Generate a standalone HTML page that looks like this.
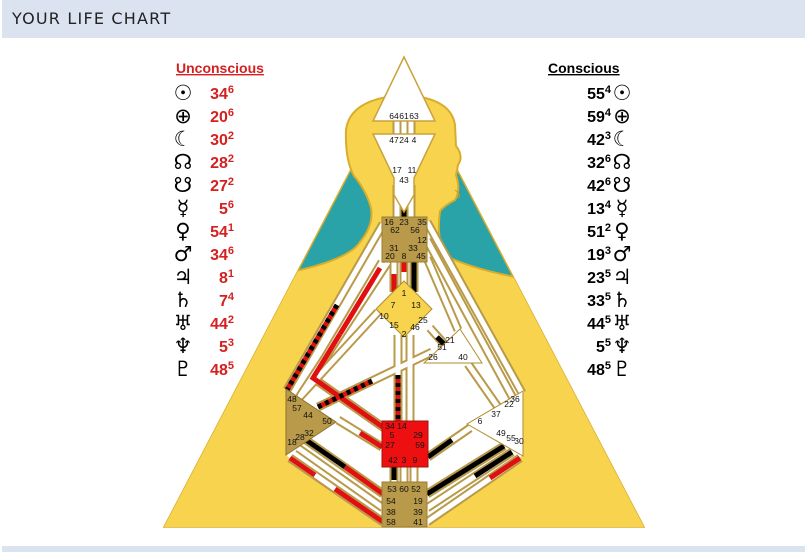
<!DOCTYPE html>
<html><head><meta charset="utf-8"><style>
body{margin:0;width:807px;height:552px;background:#fff;overflow:hidden;font-family:"Liberation Sans",sans-serif}
.hdr{position:absolute;left:2px;top:0;width:803px;height:38px;background:#dae3ef}
.hdr span{position:absolute;left:10px;top:9px;font-size:16px;letter-spacing:1.2px;color:#222;font-family:"DejaVu Sans","Liberation Sans",sans-serif}
.ftr{position:absolute;left:2px;top:546px;width:803px;height:6px;background:#dae3ef}
svg{position:absolute;left:0;top:0}
</style></head><body>
<div class="hdr"><span>YOUR LIFE CHART</span></div>
<div class="ftr"></div>
<svg width="807" height="552" viewBox="0 0 807 552">
<defs>
<clipPath id="tri"><polygon points="164,527 644,527 404,68"/><rect x="330" y="60" width="150" height="110"/></clipPath>
</defs>
<polygon points="164,527 644,527 404,68" fill="#2aa3a8" stroke="#d9ad2c" stroke-width="1.5"/>
<g clip-path="url(#tri)">
<path d="M150,530 L150,285 L300,270 Q350,258 360,242 Q374,225 371,208 Q366,190 354,176 Q345,160 346,130 Q350,98 405,95 Q451,98 455,125 L456,146 Q464,156 458,165 L456,175 Q461,190 455,200 Q445,205 440,211 Q436,240 446,256 Q470,268 515,277 L660,300 L660,530 Z" fill="#f7d34e" stroke="#d9ad2c" stroke-width="2"/>
</g>
<path d="M455,190 Q462,195 458,198" fill="none" stroke="#c99a2a" stroke-width="1"/>
<polygon points="384,228 287,390 287,456 384,527 426,527 522,456 522,393 426,228" fill="#fff"/>
<g stroke-linecap="butt" fill="none">
<g stroke="#b89a48" stroke-width="9">
<line x1="397" y1="118" x2="397" y2="138"/><line x1="404" y1="118" x2="404" y2="138"/><line x1="411" y1="118" x2="411" y2="138"/>
<line x1="397" y1="185" x2="397" y2="218"/><line x1="411" y1="185" x2="411" y2="218"/><line x1="404" y1="195" x2="404" y2="218"/>
<line x1="394" y1="262" x2="394" y2="292"/><line x1="404" y1="262" x2="404" y2="285"/><line x1="414" y1="262" x2="414" y2="292"/>
<line x1="383" y1="224" x2="287" y2="390"/><line x1="388" y1="262" x2="300" y2="396"/>
<polyline points="382,262 313,378 384,428"/>
<line x1="378" y1="312" x2="297" y2="400"/>
<line x1="427" y1="222" x2="522" y2="393"/><line x1="427" y1="240" x2="514" y2="400"/><line x1="427" y1="258" x2="458" y2="330"/>
<line x1="398" y1="335" x2="398" y2="421"/><line x1="410" y1="335" x2="410" y2="421"/>
<line x1="430" y1="328" x2="445" y2="345"/>
<line x1="318" y1="407" x2="432" y2="352"/>
<line x1="338" y1="420" x2="382" y2="447"/>
<line x1="468" y1="364" x2="500" y2="410"/>
<line x1="428" y1="457" x2="470" y2="428"/>
<line x1="290" y1="458" x2="383" y2="522"/><line x1="298" y1="448" x2="383" y2="508"/><line x1="306" y1="440" x2="383" y2="494"/>
<line x1="520" y1="458" x2="427" y2="522"/><line x1="512" y1="452" x2="427" y2="508"/><line x1="504" y1="446" x2="427" y2="494"/>
<line x1="394" y1="466" x2="394" y2="484"/><line x1="404" y1="466" x2="404" y2="484"/><line x1="414" y1="466" x2="414" y2="484"/>
</g>
<g stroke="#fff" stroke-width="5">
<line x1="397" y1="118" x2="397" y2="138"/><line x1="404" y1="118" x2="404" y2="138"/><line x1="411" y1="118" x2="411" y2="138"/>
<line x1="397" y1="185" x2="397" y2="218"/><line x1="411" y1="185" x2="411" y2="218"/><line x1="404" y1="195" x2="404" y2="218"/>
<line x1="394" y1="262" x2="394" y2="292"/><line x1="404" y1="262" x2="404" y2="285"/><line x1="414" y1="262" x2="414" y2="292"/>
<line x1="383" y1="224" x2="287" y2="390"/><line x1="388" y1="262" x2="300" y2="396"/>
<polyline points="382,262 313,378 384,428"/>
<line x1="378" y1="312" x2="297" y2="400"/>
<line x1="427" y1="222" x2="522" y2="393"/><line x1="427" y1="240" x2="514" y2="400"/><line x1="427" y1="258" x2="458" y2="330"/>
<line x1="398" y1="335" x2="398" y2="421"/><line x1="410" y1="335" x2="410" y2="421"/>
<line x1="430" y1="328" x2="445" y2="345"/>
<line x1="318" y1="407" x2="432" y2="352"/>
<line x1="338" y1="420" x2="382" y2="447"/>
<line x1="468" y1="364" x2="500" y2="410"/>
<line x1="428" y1="457" x2="470" y2="428"/>
<line x1="290" y1="458" x2="383" y2="522"/><line x1="298" y1="448" x2="383" y2="508"/><line x1="306" y1="440" x2="383" y2="494"/>
<line x1="520" y1="458" x2="427" y2="522"/><line x1="512" y1="452" x2="427" y2="508"/><line x1="504" y1="446" x2="427" y2="494"/>
<line x1="394" y1="466" x2="394" y2="484"/><line x1="404" y1="466" x2="404" y2="484"/><line x1="414" y1="466" x2="414" y2="484"/>
</g>
<g stroke-width="5">
<line x1="404" y1="203" x2="404" y2="218" stroke="#000"/>
<line x1="404" y1="262" x2="404" y2="272" stroke="#e01010"/>
<line x1="414" y1="262" x2="414" y2="292" stroke="#000"/>
<line x1="394" y1="274" x2="394" y2="292" stroke="#e01010"/>
<line x1="337" y1="305" x2="287" y2="390" stroke="#e01010"/>
<line x1="337" y1="305" x2="287" y2="390" stroke="#000" stroke-dasharray="4 4"/>
<line x1="380" y1="268" x2="340" y2="334" stroke="#e01010"/>
<polyline points="340,334 313,378 384,428" stroke="#e01010"/>
<line x1="318" y1="407" x2="372" y2="381" stroke="#e01010"/>
<line x1="318" y1="407" x2="372" y2="381" stroke="#000" stroke-dasharray="4 4"/>
<line x1="398" y1="375" x2="398" y2="421" stroke="#e01010"/>
<line x1="398" y1="375" x2="398" y2="421" stroke="#000" stroke-dasharray="4 4"/>
<line x1="360" y1="433" x2="382" y2="447" stroke="#e01010"/>
<line x1="437" y1="337" x2="445" y2="345" stroke="#000"/>
<line x1="428" y1="457" x2="452" y2="440" stroke="#000"/>
<line x1="290" y1="458" x2="383" y2="522" stroke="#e01010"/>
<line x1="315" y1="475" x2="335" y2="489" stroke="#fff"/>
<line x1="306" y1="440" x2="345" y2="467" stroke="#000"/>
<line x1="345" y1="467" x2="383" y2="494" stroke="#e01010"/>
<line x1="504" y1="446" x2="427" y2="494" stroke="#000"/>
<line x1="512" y1="452" x2="475" y2="476" stroke="#000"/>
<line x1="520" y1="458" x2="490" y2="478" stroke="#e01010"/>
<line x1="394" y1="466" x2="394" y2="480" stroke="#000"/>
</g>
</g>
<polygon points="404,57 435,121 373,121" fill="#fff" stroke="#c9a23a" stroke-width="1.5"/>
<polygon points="373,134 435,134 414,178 414,195 404,212 394,195 394,178" fill="#fff" stroke="#c9a23a" stroke-width="1.5"/>
<rect x="382" y="217" width="45" height="45" fill="#b89a4a" stroke="#9a7e33"/>
<polygon points="404,281 432,309 404,337 376,309" fill="#f7d34e" stroke="#b08f2e"/>
<polygon points="460,329 482,363 424,363" fill="#fff" stroke="#b08f2e"/>
<polygon points="286,389 336,422 286,455" fill="#b89a4a" stroke="#8e7430"/>
<polygon points="523,391 523,456 467,424" fill="#fff" stroke="#b08f2e"/>
<rect x="382" y="421" width="46" height="46" fill="#ee1010" stroke="#a01010"/>
<rect x="382" y="482" width="45" height="45" fill="#b89a4a" stroke="#9a7e33"/>
<g font-family="Liberation Sans,sans-serif" font-size="8.5" fill="#111" text-anchor="middle">
<text x="394" y="119">64</text><text x="404" y="119">61</text><text x="414" y="119">63</text>
<text x="394" y="143">47</text><text x="404" y="143">24</text><text x="414" y="143">4</text>
<text x="397" y="173">17</text><text x="412" y="173">11</text><text x="404" y="183">43</text>
<text x="389" y="225">16</text><text x="404" y="225">23</text><text x="422" y="225">35</text>
<text x="395" y="233">62</text><text x="415" y="233">56</text><text x="422" y="243">12</text>
<text x="394" y="251">31</text><text x="413" y="251">33</text>
<text x="390" y="259">20</text><text x="404" y="259">8</text><text x="421" y="259">45</text>
<text x="404" y="296">1</text><text x="393" y="308">7</text><text x="416" y="308">13</text>
<text x="384" y="319">10</text><text x="423" y="323">25</text>
<text x="394" y="328">15</text><text x="415" y="330">46</text><text x="404" y="337">2</text>
<text x="450" y="343">21</text><text x="442" y="350">51</text><text x="433" y="360">26</text><text x="463" y="360">40</text>
<text x="292" y="402">48</text><text x="297" y="411">57</text><text x="308" y="418">44</text><text x="327" y="424">50</text>
<text x="309" y="436">32</text><text x="300" y="440">28</text><text x="292" y="445">18</text>
<text x="515" y="402">36</text><text x="509" y="407">22</text><text x="496" y="417">37</text><text x="480" y="424">6</text>
<text x="501" y="436">49</text><text x="511" y="441">55</text><text x="519" y="444">30</text>
<text x="390" y="429">34</text><text x="402" y="429">14</text><text x="392" y="438">5</text><text x="418" y="438">29</text>
<text x="390" y="448">27</text><text x="420" y="448">59</text>
<text x="393" y="463">42</text><text x="404" y="463">3</text><text x="415" y="463">9</text>
<text x="392" y="492">53</text><text x="404" y="492">60</text><text x="416" y="492">52</text>
<text x="391" y="504">54</text><text x="418" y="504">19</text>
<text x="391" y="515">38</text><text x="418" y="515">39</text>
<text x="391" y="525">58</text><text x="418" y="525">41</text>
</g>
<g font-family="Liberation Sans,sans-serif" font-weight="bold" font-size="14">
<text x="176" y="73" fill="#d42020" text-decoration="underline">Unconscious </text>
<text x="548" y="73" fill="#000" text-decoration="underline">Conscious </text>
</g>
<g font-family="DejaVu Sans,sans-serif" font-size="21" fill="#000" text-anchor="middle">
<text x="183" y="100">☉</text><text x="183" y="123">⊕</text><text x="183" y="146">☾</text><text x="183" y="169">☊</text><text x="183" y="192">☋</text><text x="183" y="215">☿</text><text x="183" y="238">♀</text><text x="183" y="261">♂</text><text x="183" y="284">♃</text><text x="183" y="307">♄</text><text x="183" y="330">♅</text><text x="183" y="353">♆</text><text x="183" y="376">♇</text>
<text x="622" y="100">☉</text><text x="622" y="123">⊕</text><text x="622" y="146">☾</text><text x="622" y="169">☊</text><text x="622" y="192">☋</text><text x="622" y="215">☿</text><text x="622" y="238">♀</text><text x="622" y="261">♂</text><text x="622" y="284">♃</text><text x="622" y="307">♄</text><text x="622" y="330">♅</text><text x="622" y="353">♆</text><text x="622" y="376">♇</text>
</g>
<g font-family="Liberation Sans,sans-serif" font-weight="bold" font-size="16" fill="#d42020" text-anchor="end">
<text x="234" y="99">34<tspan font-size="11" dy="-6">6</tspan></text>
<text x="234" y="122">20<tspan font-size="11" dy="-6">6</tspan></text>
<text x="234" y="145">30<tspan font-size="11" dy="-6">2</tspan></text>
<text x="234" y="168">28<tspan font-size="11" dy="-6">2</tspan></text>
<text x="234" y="191">27<tspan font-size="11" dy="-6">2</tspan></text>
<text x="234" y="214">5<tspan font-size="11" dy="-6">6</tspan></text>
<text x="234" y="237">54<tspan font-size="11" dy="-6">1</tspan></text>
<text x="234" y="260">34<tspan font-size="11" dy="-6">6</tspan></text>
<text x="234" y="283">8<tspan font-size="11" dy="-6">1</tspan></text>
<text x="234" y="306">7<tspan font-size="11" dy="-6">4</tspan></text>
<text x="234" y="329">44<tspan font-size="11" dy="-6">2</tspan></text>
<text x="234" y="352">5<tspan font-size="11" dy="-6">3</tspan></text>
<text x="234" y="375">48<tspan font-size="11" dy="-6">5</tspan></text>
</g>
<g font-family="Liberation Sans,sans-serif" font-weight="bold" font-size="16" fill="#000" text-anchor="end">
<text x="611" y="99">55<tspan font-size="11" dy="-6">4</tspan></text>
<text x="611" y="122">59<tspan font-size="11" dy="-6">4</tspan></text>
<text x="611" y="145">42<tspan font-size="11" dy="-6">3</tspan></text>
<text x="611" y="168">32<tspan font-size="11" dy="-6">6</tspan></text>
<text x="611" y="191">42<tspan font-size="11" dy="-6">6</tspan></text>
<text x="611" y="214">13<tspan font-size="11" dy="-6">4</tspan></text>
<text x="611" y="237">51<tspan font-size="11" dy="-6">2</tspan></text>
<text x="611" y="260">19<tspan font-size="11" dy="-6">3</tspan></text>
<text x="611" y="283">23<tspan font-size="11" dy="-6">5</tspan></text>
<text x="611" y="306">33<tspan font-size="11" dy="-6">5</tspan></text>
<text x="611" y="329">44<tspan font-size="11" dy="-6">5</tspan></text>
<text x="611" y="352">5<tspan font-size="11" dy="-6">5</tspan></text>
<text x="611" y="375">48<tspan font-size="11" dy="-6">5</tspan></text>
</g>
</svg>
</body></html>
